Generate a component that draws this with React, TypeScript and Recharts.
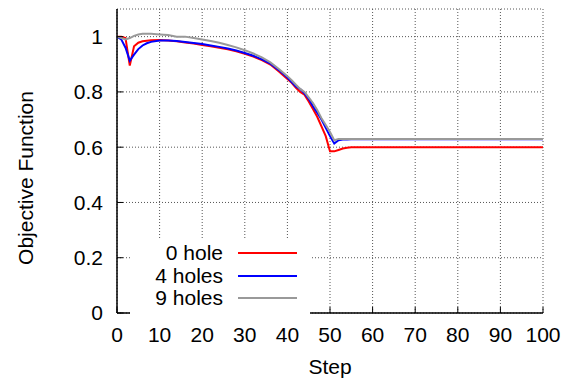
import { LineChart, Line, XAxis, YAxis, CartesianGrid, Legend } from 'recharts';

const steps = [0, 1, 2, 3, 4, 5, 6, 7, 8, 10, 12, 14, 16, 18, 20, 22, 24, 26, 28, 30, 32, 34, 36, 38, 40, 41, 42, 43, 44, 45, 46, 47, 48, 49, 50, 51, 52, 53, 54, 55, 60, 70, 80, 90, 100];

const hole0 = [1, 1, 0.995, 0.895, 0.965, 0.978, 0.983, 0.985, 0.987, 0.988, 0.986, 0.983, 0.979, 0.975, 0.97, 0.965, 0.96, 0.954, 0.947, 0.938, 0.928, 0.915, 0.899, 0.874, 0.847, 0.833, 0.815, 0.8, 0.79, 0.765, 0.738, 0.71, 0.675, 0.64, 0.585, 0.585, 0.59, 0.595, 0.598, 0.6, 0.6, 0.6, 0.6, 0.6, 0.6];

const holes4 = [1, 0.99, 0.96, 0.913, 0.935, 0.955, 0.968, 0.976, 0.981, 0.986, 0.986, 0.984, 0.981, 0.977, 0.973, 0.968, 0.963, 0.957, 0.95, 0.941, 0.931, 0.918, 0.902, 0.879, 0.852, 0.836, 0.82, 0.81, 0.795, 0.775, 0.748, 0.725, 0.7, 0.67, 0.64, 0.613, 0.625, 0.628, 0.628, 0.629, 0.629, 0.629, 0.629, 0.629, 0.629];

const holes9 = [1, 0.995, 0.99, 0.995, 1.003, 1.008, 1.01, 1.01, 1.01, 1.008, 1.006, 1.0, 1.0, 0.995, 0.99, 0.984, 0.978, 0.97, 0.961, 0.951, 0.939, 0.925, 0.907, 0.883, 0.857, 0.842, 0.826, 0.811, 0.8, 0.78, 0.76, 0.735, 0.705, 0.68, 0.655, 0.625, 0.63, 0.63, 0.63, 0.63, 0.63, 0.63, 0.63, 0.63, 0.63];

const xTicks = [0, 10, 20, 30, 40, 50, 60, 70, 80, 90, 100];
const yTicks = [0, 0.2, 0.4, 0.6, 0.8, 1];

const series = [
  { key: 'h0', name: '0 hole', color: '#ff0000' },
  { key: 'h4', name: '4 holes', color: '#0000ff' },
  { key: 'h9', name: '9 holes', color: '#999999' },
];

const data = steps.map((s, i) => ({ step: s, h0: hole0[i], h4: holes4[i], h9: holes9[i] }));

const font = '"Liberation Sans", Arial, sans-serif';
const fs = 21;

const renderLegend = () => (
  <div style={{ background: '#fff', width: 180, height: 73, paddingTop: 2, fontFamily: font, fontSize: fs, color: '#000' }}>
    {series.map((s) => (
      <div key={s.key} style={{ display: 'flex', alignItems: 'center', height: 22.5 }}>
        <span style={{ width: 93, textAlign: 'right', lineHeight: '22px', whiteSpace: 'nowrap' }}>{s.name}</span>
        <span style={{ marginLeft: 15, width: 59, height: 2, background: s.color }} />
      </div>
    ))}
  </div>
);

const YLabel = ({ viewBox }: any) => {
  const x = viewBox.x + viewBox.width - 92;
  const y = viewBox.y + viewBox.height / 2 + 17;
  return (
    <text x={x} y={y} transform={`rotate(-90 ${x} ${y})`} textAnchor="middle" dominantBaseline="central" fill="#000" fontSize={fs} fontFamily={font}>
      Objective Function
    </text>
  );
};

export default function App() {
  return (
    <div style={{ width: 576, height: 383, background: '#fff' }}>
      <style>{'body{margin:0}'}</style>
      <LineChart width={576} height={383} data={data} margin={{ top: 9, right: 33, left: 57, bottom: 40 }}>
        <CartesianGrid stroke="#555" strokeDasharray="1 2" />
        <XAxis
          dataKey="step"
          type="number"
          domain={[0, 100]}
          ticks={xTicks}
          height={30}
          tickSize={-6}
          tickMargin={20}
          stroke="#000"
          axisLine={{ stroke: '#000', strokeWidth: 1.5 }}
          tick={{ fill: '#000', fontSize: fs, fontFamily: font }}
          label={{ value: 'Step', position: 'bottom', offset: 16, fill: '#000', fontSize: fs, fontFamily: font }}
        />
        <XAxis
          xAxisId="top"
          orientation="top"
          type="number"
          domain={[0, 100]}
          ticks={xTicks}
          height={0}
          tickSize={-6}
          tickFormatter={() => ''}
          stroke="#000"
          axisLine={{ stroke: '#000', strokeWidth: 1.5 }}
        />
        <YAxis
          type="number"
          domain={[0, 1.1]}
          ticks={yTicks}
          width={60}
          tickSize={-6}
          tickMargin={20}
          stroke="#000"
          axisLine={{ stroke: '#000', strokeWidth: 1.5 }}
          tick={{ fill: '#000', fontSize: fs, fontFamily: font }}
          label={{ content: YLabel }}
        />
        <YAxis
          yAxisId="right"
          orientation="right"
          type="number"
          domain={[0, 1.1]}
          ticks={yTicks}
          width={0}
          tickSize={-6}
          tickFormatter={() => ''}
          stroke="#000"
          axisLine={{ stroke: '#000', strokeWidth: 1.5 }}
        />
        <Legend
          layout="vertical"
          align="center"
          verticalAlign="middle"
          content={renderLegend}
          wrapperStyle={{ left: 130, top: 240, width: 180, height: 73 }}
        />
        {series.map((s) => (
          <Line
            key={s.key}
            type="linear"
            dataKey={s.key}
            name={s.name}
            stroke={s.color}
            strokeWidth={2}
            dot={false}
            isAnimationActive={false}
          />
        ))}
      </LineChart>
    </div>
  );
}
